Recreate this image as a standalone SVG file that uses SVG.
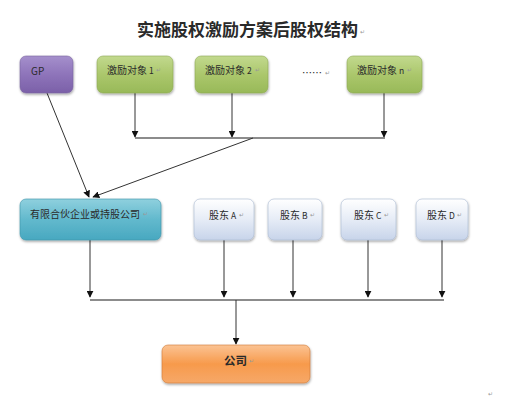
<svg xmlns="http://www.w3.org/2000/svg" width="505" height="400" viewBox="0 0 505 400">
<defs>
<linearGradient id="gPurple" x1="0" y1="0" x2="0" y2="1"><stop offset="0" stop-color="#a590cc"/><stop offset="0.5" stop-color="#8e74ba"/><stop offset="1" stop-color="#7b60a8"/></linearGradient>
<linearGradient id="gGreen" x1="0" y1="0" x2="0" y2="1"><stop offset="0" stop-color="#c2d98e"/><stop offset="0.5" stop-color="#abc76c"/><stop offset="1" stop-color="#98b958"/></linearGradient>
<linearGradient id="gTeal" x1="0" y1="0" x2="0" y2="1"><stop offset="0" stop-color="#8fd0de"/><stop offset="0.5" stop-color="#62b9cd"/><stop offset="1" stop-color="#48a8c0"/></linearGradient>
<linearGradient id="gBlue" x1="0" y1="0" x2="0" y2="1"><stop offset="0" stop-color="#ffffff"/><stop offset="0.5" stop-color="#e6ecf6"/><stop offset="1" stop-color="#c7d4ea"/></linearGradient>
<linearGradient id="gOrange" x1="0" y1="0" x2="0" y2="1"><stop offset="0" stop-color="#fbc393"/><stop offset="0.5" stop-color="#f79a4c"/><stop offset="1" stop-color="#f6a868"/></linearGradient>
<filter id="sh" x="-10%" y="-10%" width="120%" height="130%"><feDropShadow dx="0.5" dy="1.5" stdDeviation="0.8" flood-color="#000" flood-opacity="0.35"/></filter>
<marker id="arr" viewBox="0 0 10 10" refX="9" refY="5" markerWidth="7" markerHeight="7" orient="auto" markerUnits="userSpaceOnUse"><path d="M0,0 L10,5 L0,10 z" fill="#111"/></marker>
</defs>
<style>
.t{font-family:"Noto Sans CJK SC","Liberation Sans",sans-serif;fill:#2a2a2a;}
.lbl{font-size:10px;}
.lat{font-size:8.5px;}
.ret{font-family:"DejaVu Sans",sans-serif;font-size:6px;fill:#999;}
.ln{stroke:#333;stroke-width:1;fill:none;}
.hl{stroke:#666;stroke-width:1.5;fill:none;}
</style>
<rect width="505" height="400" fill="#fff"/>
<text class="t" x="137" y="36" font-size="17" font-weight="bold" fill="#111">实施股权激励方案后股权结构</text>
<text class="ret" x="360" y="34">↵</text>

<g id="connectors">
<path class="ln" d="M135,93 V137" marker-end="url(#arr)"/>
<path class="ln" d="M232,93 V137" marker-end="url(#arr)"/>
<path class="ln" d="M384,93 V137" marker-end="url(#arr)"/>
<path class="hl" d="M135,138 H385"/>
<path class="ln" d="M47,93 L89,197" marker-end="url(#arr)"/>
<path class="ln" d="M253,138 L93,197" marker-end="url(#arr)"/>
<path class="ln" d="M90,240 V297" marker-end="url(#arr)"/>
<path class="ln" d="M224,240 V297" marker-end="url(#arr)"/>
<path class="ln" d="M293,240 V297" marker-end="url(#arr)"/>
<path class="ln" d="M368,240 V297" marker-end="url(#arr)"/>
<path class="ln" d="M442,240 V297" marker-end="url(#arr)"/>
<path class="hl" d="M90,300 H444"/>
<path class="ln" d="M236,300 V344" marker-end="url(#arr)"/>
</g>

<g id="gp"><rect x="20" y="56" width="53" height="37" rx="6" fill="url(#gPurple)" stroke="#7a64a0" stroke-width="0.6" filter="url(#sh)"/><text class="t lbl" x="31" y="75">GP</text></g>
<g id="inc1"><rect x="97" y="56" width="76" height="37" rx="6" fill="url(#gGreen)" stroke="#8faa55" stroke-width="0.6" filter="url(#sh)"/><text class="t lbl" x="107" y="74">激励对象<tspan class="lat"> 1</tspan></text><text class="ret" x="156" y="72">↵</text></g>
<g id="inc2"><rect x="195" y="56" width="73" height="37" rx="6" fill="url(#gGreen)" stroke="#8faa55" stroke-width="0.6" filter="url(#sh)"/><text class="t lbl" x="205" y="74">激励对象<tspan class="lat"> 2</tspan></text><text class="ret" x="255" y="72">↵</text></g>
<g id="dots"><text class="t lbl" x="302" y="77">……</text><text class="ret" x="325" y="75">↵</text></g>
<g id="incn"><rect x="347" y="56" width="75" height="37" rx="6" fill="url(#gGreen)" stroke="#8faa55" stroke-width="0.6" filter="url(#sh)"/><text class="t lbl" x="357" y="74">激励对象<tspan class="lat"> n</tspan></text><text class="ret" x="407" y="72">↵</text></g>

<g id="partner"><rect x="20" y="199" width="141" height="41" rx="6" fill="url(#gTeal)" stroke="#3d93aa" stroke-width="0.6" filter="url(#sh)"/><text class="t" x="30" y="218" font-size="10">有限合伙企业或持股公司</text><text class="ret" x="143" y="216">↵</text></g>
<g id="sa"><rect x="194" y="199" width="60" height="41" rx="6" fill="url(#gBlue)" stroke="#a9b8d2" stroke-width="0.6" filter="url(#sh)"/><text class="t lbl" x="209" y="219">股东<tspan class="lat"> A</tspan></text><text class="ret" x="239" y="217">↵</text></g>
<g id="sb"><rect x="268" y="199" width="54" height="41" rx="6" fill="url(#gBlue)" stroke="#a9b8d2" stroke-width="0.6" filter="url(#sh)"/><text class="t lbl" x="280" y="219">股东<tspan class="lat"> B</tspan></text><text class="ret" x="310" y="217">↵</text></g>
<g id="sc"><rect x="341" y="199" width="55" height="41" rx="6" fill="url(#gBlue)" stroke="#a9b8d2" stroke-width="0.6" filter="url(#sh)"/><text class="t lbl" x="354" y="219">股东<tspan class="lat"> C</tspan></text><text class="ret" x="384" y="217">↵</text></g>
<g id="sd"><rect x="416" y="199" width="52" height="41" rx="6" fill="url(#gBlue)" stroke="#a9b8d2" stroke-width="0.6" filter="url(#sh)"/><text class="t lbl" x="427" y="219">股东<tspan class="lat"> D</tspan></text><text class="ret" x="457" y="217">↵</text></g>

<g id="company"><rect x="162" y="345" width="148" height="38" rx="6" fill="url(#gOrange)" stroke="#d07a35" stroke-width="0.6" filter="url(#sh)"/><text class="t" x="224" y="365" font-size="11.5" font-weight="bold" fill="#7a3a22">公司</text><text class="ret" x="249" y="363">↵</text></g>

<text class="ret" x="488" y="396">↵</text>
</svg>
